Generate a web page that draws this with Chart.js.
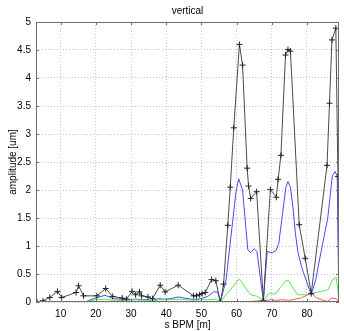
<!DOCTYPE html>
<html>
<head>
<meta charset="utf-8">
<script src="https://cdn.jsdelivr.net/npm/chart.js@4"></script>
<style>
  body { margin: 0; background: #fff; }
  #wrap { width: 344px; height: 331px; }
</style>
</head>
<body>
<div id="wrap"><canvas id="bpmChart" width="344" height="331"></canvas></div>
<script>
// vertical amplitude along the BPMs
const blackS = [3.3, 5.0, 6.9, 9.1, 10.3, 14.4, 15.1, 16.5, 20.3, 22.8, 24.8, 27.5, 28.7, 30.3, 31.3, 32.4, 33.0, 34.8, 36.1, 38.3, 39.7, 43.4, 47.8, 48.6, 49.5, 50.2, 51.1, 52.9, 54.1, 55.4, 56.3, 57.5, 58.2, 59.2, 60.8, 61.7, 63.0, 63.4, 64.0, 65.7, 67.6, 69.6, 71.3, 71.8, 72.6, 73.9, 74.6, 75.3, 77.8, 79.5, 81.2, 85.7, 86.4, 87.1, 88.2, 88.8, 89.05];
const blackAmp = [0.0, 0.02, 0.08, 0.19, 0.08, 0.17, 0.29, 0.11, 0.11, 0.24, 0.10, 0.07, 0.05, 0.19, 0.13, 0.18, 0.11, 0.09, 0.06, 0.30, 0.18, 0.30, 0.11, 0.11, 0.13, 0.15, 0.17, 0.40, 0.38, 0.0, 0.32, 1.37, 2.05, 3.11, 4.60, 4.23, 2.39, 2.07, 1.85, 1.97, 0.02, 2.01, 1.87, 2.19, 2.62, 4.41, 4.51, 4.48, 1.38, 0.78, 0.15, 2.44, 3.55, 4.68, 4.89, 2.24, 0.0];

const blueS = [3.3, 17.0, 19.4, 22.6, 25.0, 27.3, 29.4, 31.3, 34.1, 36.3, 37.8, 39.3, 41.2, 43.4, 46.2, 48.1, 49.9, 51.8, 53.5, 54.6, 55.4, 57.0, 58.4, 59.8, 60.6, 61.7, 62.6, 63.2, 64.0, 65.0, 65.8, 67.6, 68.7, 70.1, 71.2, 72.0, 73.0, 74.0, 74.6, 75.3, 76.0, 76.7, 77.4, 78.5, 81.2, 82.5, 83.7, 84.8, 85.9, 86.6, 87.2, 88.0, 88.6, 89.05];
const blueAmp = [0.0, 0.0, 0.06, 0.12, 0.06, 0.05, 0.04, 0.05, 0.04, 0.03, 0.06, 0.05, 0.06, 0.09, 0.06, 0.04, 0.06, 0.10, 0.18, 0.18, 0.0, 0.39, 1.17, 1.95, 2.20, 2.00, 1.35, 0.93, 0.88, 0.95, 0.90, 0.02, 0.90, 0.88, 0.92, 1.05, 1.55, 2.05, 2.15, 2.05, 1.70, 1.23, 0.90, 0.62, 0.13, 0.40, 0.80, 1.15, 1.50, 1.90, 2.25, 2.33, 2.25, 0.0];

const greenS = [3.3, 17.0, 20.0, 22.6, 25.0, 28.0, 31.0, 34.0, 36.3, 38.0, 40.0, 43.4, 46.0, 48.0, 50.0, 52.0, 54.3, 55.4, 56.6, 58.9, 60.3, 61.0, 62.6, 64.0, 66.0, 67.6, 69.3, 70.5, 71.5, 72.5, 74.0, 74.8, 76.0, 77.3, 80.0, 81.2, 83.5, 86.0, 87.3, 88.3, 88.8, 89.05];
const greenAmp = [0.0, 0.0, 0.04, 0.05, 0.03, 0.03, 0.04, 0.03, 0.02, 0.04, 0.04, 0.05, 0.04, 0.03, 0.04, 0.04, 0.05, 0.0, 0.10, 0.27, 0.39, 0.40, 0.24, 0.13, 0.10, 0.03, 0.16, 0.14, 0.17, 0.27, 0.38, 0.38, 0.25, 0.13, 0.13, 0.15, 0.18, 0.22, 0.40, 0.44, 0.20, 0.0];

const redS = [3.3, 5.5, 15.0, 16.0, 19.0, 20.0, 26.0, 28.0, 42.0, 46.0, 47.0, 55.4, 60.0, 62.0, 64.0, 66.0, 68.0, 70.0, 71.0, 73.0, 75.0, 76.5, 78.2, 80.0, 81.2, 82.6, 84.2, 85.8, 87.0, 88.3, 89.05];
const redAmp = [0.01, 0.0, 0.0, 0.01, 0.01, 0.0, 0.01, 0.0, 0.01, 0.01, 0.0, 0.0, 0.0, 0.01, 0.01, 0.02, 0.03, 0.04, 0.03, 0.04, 0.03, 0.05, 0.07, 0.12, 0.16, 0.08, 0.04, 0.01, 0.07, 0.06, 0.0];

const xTickStep = 10;
const yTickStep = 0.5;

function toPoints(s, amp) {
    return s.map((v, i) => ({ x: v, y: amp[i] }));
}

const FONT = { family: "'Liberation Sans', Arial, sans-serif", size: 10 };

// MATLAB style box with ticks pointing inward
const framePlugin = {
    id: "frame",
    afterDatasetsDraw(chart) {
        const { ctx, chartArea: a, scales } = chart;
        const x = scales.x, y = scales.y;
        ctx.save();
        ctx.strokeStyle = "#6e6e6e";
        ctx.lineWidth = 1;
        ctx.beginPath();
        x.ticks.forEach(t => {
            const px = Math.round(x.getPixelForValue(t.value)) + 0.5;
            ctx.moveTo(px, a.bottom); ctx.lineTo(px, a.bottom - 3);
            ctx.moveTo(px, a.top); ctx.lineTo(px, a.top + 3);
        });
        y.ticks.forEach(t => {
            const py = Math.round(y.getPixelForValue(t.value)) + 0.5;
            ctx.moveTo(a.left, py); ctx.lineTo(a.left + 3, py);
            ctx.moveTo(a.right, py); ctx.lineTo(a.right - 3, py);
        });
        ctx.stroke();
        ctx.strokeRect(Math.round(a.left) + 0.5, Math.round(a.top) + 0.5,
            Math.round(a.right - a.left) - 1, Math.round(a.bottom - a.top) - 1);
        ctx.restore();
    }
};

new Chart(document.getElementById("bpmChart"), {
    type: "scatter",
    data: {
        datasets: [
            {
                data: toPoints(blackS, blackAmp),
                showLine: true,
                borderColor: "#4a4a4a",
                borderWidth: 1,
                pointStyle: "cross",
                pointRadius: 3,
                pointBorderColor: "#222",
                pointBorderWidth: 1
            },
            {
                data: toPoints(redS, redAmp),
                showLine: true,
                borderColor: "#ff5a5a",
                borderWidth: 1,
                pointRadius: 0
            },
            {
                data: toPoints(greenS, greenAmp),
                showLine: true,
                borderColor: "#4fe84f",
                borderWidth: 1,
                pointRadius: 0
            },
            {
                data: toPoints(blueS, blueAmp),
                showLine: true,
                borderColor: "#4848ff",
                borderWidth: 1,
                pointRadius: 0
            }
        ]
    },
    options: {
        responsive: false,
        animation: false,
        layout: { padding: { left: 0, right: 1, top: 0, bottom: 0 } },
        plugins: {
            legend: { display: false },
            tooltip: { enabled: false },
            title: {
                display: true,
                text: "vertical",
                color: "#000",
                font: { ...FONT, weight: "normal" },
                fullSize: false,
                padding: { top: 5, bottom: 5 }
            }
        },
        scales: {
            x: {
                type: "linear",
                min: 3,
                max: 89.1,
                ticks: {
                    stepSize: xTickStep,
                    includeBounds: false,
                    color: "#000",
                    font: FONT,
                    padding: 6,
                    maxRotation: 0
                },
                grid: { color: "#c4c4c4", drawTicks: false },
                border: { display: false, dash: [1, 2] },
                title: {
                    display: true,
                    text: "s BPM [m]",
                    color: "#000",
                    font: FONT,
                    padding: { top: 0, bottom: 0 }
                },
                afterFit(scale) { scale.height = 29; }
            },
            y: {
                min: 0,
                max: 5,
                ticks: {
                    stepSize: yTickStep,
                    color: "#000",
                    font: FONT,
                    padding: 5,
                    callback: value => String(Number(value.toFixed(2)))
                },
                grid: { color: "#c4c4c4", drawTicks: false },
                border: { display: false, dash: [1, 2] },
                title: {
                    display: true,
                    text: "amplitude [um]",
                    color: "#000",
                    font: FONT,
                    padding: { top: 7, bottom: 0 }
                },
                afterFit(scale) { scale.width = 36; }
            }
        }
    },
    plugins: [framePlugin]
});
</script>
</body>
</html>
